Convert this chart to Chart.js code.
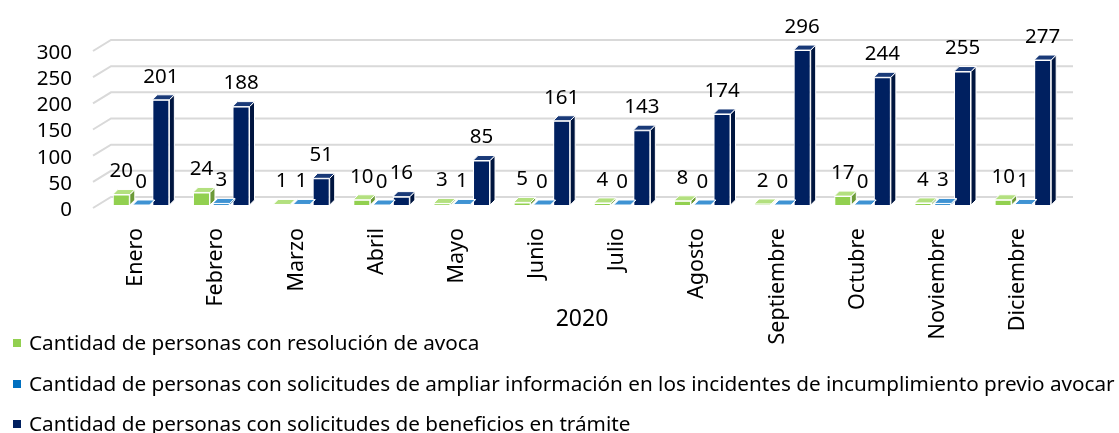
<!DOCTYPE html>
<html><head><meta charset="utf-8">
<script src="https://cdn.jsdelivr.net/npm/chart.js@4/dist/chart.umd.min.js"></script>
<style>
html,body{margin:0;padding:0;background:#fff;}
#wrap{position:relative;width:1119px;height:433px;overflow:hidden;}
canvas{position:absolute;left:0;top:0;}
#legend{position:absolute;left:0;top:0;width:1119px;height:433px;pointer-events:none;font-family:"Noto Sans";font-size:20.7px;color:#000;}
.item{position:absolute;left:13px;height:24px;line-height:24px;white-space:nowrap;}
.sw{display:inline-block;width:8px;height:8px;margin-right:8px;vertical-align:middle;position:relative;top:-1px;}
</style></head>
<body><div id="wrap"><canvas id="c" width="1119" height="433"></canvas><div id="legend"></div></div>
<script>
const categories = ['Enero','Febrero','Marzo','Abril','Mayo','Junio','Julio','Agosto','Septiembre','Octubre','Noviembre','Diciembre'];
const resolucionAvoca = [20,24,1,10,3,5,4,8,2,17,4,10];
const ampliarInformacion = [0,3,1,0,1,0,0,0,0,0,3,1];
const beneficiosTramite = [201,188,51,16,85,161,143,174,296,244,255,277];
const yTicks = [0,50,100,150,200,250,300];
const seriesLabels = [
  'Cantidad de personas con resolución de avoca',
  'Cantidad de personas con solicitudes de ampliar información en los incidentes de incumplimiento previo avocar',
  'Cantidad de personas con solicitudes de beneficios en trámite'
];
const axisTitle = '2020';

const faceColors = [
  {front:'#92D050', top:'#B3E07F', side:'#6C9A38'},
  {front:'#0070C0', top:'#3F93D3', side:'#00528E'},
  {front:'#002060', top:'#1A3A78', side:'#00153F'}
];
const DX = 5, DY = 5;
const FONT = '"Noto Sans", sans-serif';

const grid3d = {
  id:'grid3d',
  beforeDatasetsDraw(chart){
    const {ctx, chartArea:a, scales:{y}} = chart;
    ctx.save();
    ctx.strokeStyle = '#D9D9D9'; ctx.lineWidth = 2;
    yTicks.forEach(v=>{
      const p = y.getPixelForValue(v);
      ctx.beginPath();
      ctx.moveTo(a.left-8, p+3);
      ctx.lineTo(a.left+10, p-8);
      ctx.lineTo(a.right+10, p-8);
      ctx.stroke();
    });
    ctx.restore();
  }
};

const bars3d = {
  id:'bars3d',
  afterDatasetDraw(chart, args){
    const ctx = chart.ctx; const c = faceColors[args.index];
    args.meta.data.forEach(el=>{
      const {x,y,base,width} = el.getProps(['x','y','base','width'], true);
      const l = x-width/2, r = x+width/2;
      ctx.save();
      ctx.strokeStyle = '#fff'; ctx.lineWidth = 1; ctx.lineJoin = 'round';
      ctx.beginPath();
      ctx.moveTo(r,y); ctx.lineTo(r+DX,y-DY); ctx.lineTo(r+DX,base-DY); ctx.lineTo(r,base); ctx.closePath();
      ctx.fillStyle = c.side; ctx.fill(); ctx.stroke();
      ctx.beginPath();
      ctx.moveTo(l,y); ctx.lineTo(l+DX,y-DY); ctx.lineTo(r+DX,y-DY); ctx.lineTo(r,y); ctx.closePath();
      ctx.fillStyle = c.top; ctx.fill(); ctx.stroke();
      ctx.restore();
    });
  },
  afterDatasetsDraw(chart){
    const ctx = chart.ctx;
    ctx.save();
    ctx.font = '20.5px ' + FONT; ctx.fillStyle = '#000';
    ctx.textAlign = 'center'; ctx.textBaseline = 'middle';
    chart.data.datasets.forEach((ds,i)=>{
      chart.getDatasetMeta(i).data.forEach((el,j)=>{
        ctx.fillText(String(ds.data[j]), el.x, el.y-23);
      });
    });
    ctx.restore();
  }
};

const seriesData = [resolucionAvoca, ampliarInformacion, beneficiosTramite];
new Chart(document.getElementById('c'), {
  type:'bar',
  data:{
    labels: categories,
    datasets: seriesData.map((d,i)=>({
      label: seriesLabels[i], data: d,
      backgroundColor: faceColors[i].front, borderColor:'#fff', borderWidth:1,
      categoryPercentage:0.74, barPercentage:0.86, clip:false
    }))
  },
  options:{
    responsive:false, animation:false, devicePixelRatio:1,
    layout:{padding:{top:48,right:56,bottom:0,left:0}},
    plugins:{legend:{display:false}, tooltip:{enabled:false}},
    scales:{
      x:{
        grid:{display:false, drawTicks:false}, border:{display:false},
        ticks:{font:{family:FONT,size:21.5}, color:'#000', minRotation:90, maxRotation:90, autoSkip:false, padding:23, labelOffset:-5},
        title:{display:true, text:axisTitle, font:{family:FONT,size:23}, color:'#000', padding:{top:0,bottom:100}},
        afterFit(s){ s.height = 228; }
      },
      y:{
        min:0, max:300,
        grid:{display:false, drawTicks:false}, border:{display:false},
        ticks:{stepSize:50, autoSkip:false, font:{family:FONT,size:20.5}, color:'#000', padding:29, labelOffset:5},
        afterFit(s){ s.width = 101; }
      }
    }
  },
  plugins:[grid3d, bars3d]
});

const lg = document.getElementById('legend');
const rowCenters = [342, 383, 423];
seriesLabels.forEach((t,i)=>{
  const d = document.createElement('div'); d.className='item'; d.style.top=(rowCenters[i]-12)+'px';
  const s = document.createElement('span'); s.className='sw'; s.style.background=faceColors[i].front;
  d.appendChild(s); d.appendChild(document.createTextNode(t)); lg.appendChild(d);
});
</script>
</body></html>
